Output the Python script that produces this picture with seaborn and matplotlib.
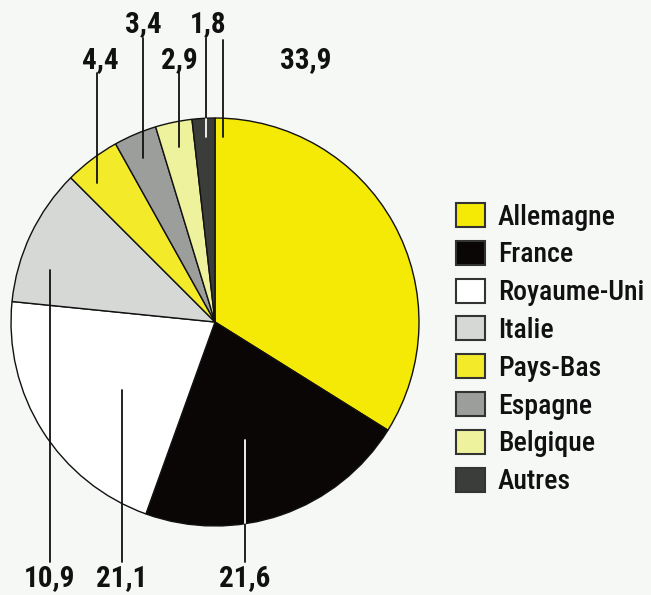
"""
Répartition par pays - camembert
"""

import matplotlib
matplotlib.use('Agg')
import matplotlib.pyplot as plt
import matplotlib.font_manager as fm
import seaborn as sns

sns.set_style("white")
noms = {f.name for f in fm.fontManager.ttflist}
famille = [n for n in ['Roboto Condensed', 'DejaVu Sans Condensed', 'Liberation Sans Narrow'] if n in noms]
plt.rcParams['font.family'] = famille + ['DejaVu Sans']

# données
pays = ['Allemagne', 'France', 'Royaume-Uni', 'Italie', 'Pays-Bas', 'Espagne', 'Belgique', 'Autres']
parts = [33.9, 21.6, 21.1, 10.9, 4.4, 3.4, 2.9, 1.8]
couleurs = ['#f4ea05', '#0b0606', '#ffffff', '#d6d8d6', '#f3ea2a', '#9c9e9c', '#eff29c', '#3b3d3b']
etiquettes = ['33,9', '21,6', '21,1', '10,9', '4,4', '3,4', '2,9', '1,8']

# position des étiquettes (pixels) : x texte, y texte, x trait, y début, y fin
pos_etiq = {
    '33,9': (306, 60, 223, 40, 137),
    '21,6': (245, 578, 245, 440, 562),
    '21,1': (122, 578, 122, 390, 562),
    '10,9': (50, 578, 50, 270, 562),
    '4,4': (100, 60, 97, 73, 183),
    '3,4': (143, 24, 143, 38, 158),
    '2,9': (179, 60, 179, 72, 147),
    '1,8': (208, 24, 206, 38, 137),
}

W, H = 651, 595
fond = '#f5f8f5'
fig = plt.figure(figsize=(W / 100, H / 100), dpi=100, facecolor=fond)

# camembert : centre (215, 322), rayon 205 px
cx, cy, r = 215, 322, 205
ax = fig.add_axes([(cx - r) / W, 1 - (cy + r) / H, 2 * r / W, 2 * r / H])
ax.set_facecolor(fond)
wedges, _ = ax.pie(parts, colors=couleurs, startangle=90, counterclock=False,
                   wedgeprops={'edgecolor': '#111111', 'linewidth': 1.0})
ax.set_xlim(-1.005, 1.005)
ax.set_ylim(-1.005, 1.005)
ax.set_aspect('equal')
ax.axis('off')

# calque pour les traits et étiquettes, en pixels
ov = fig.add_axes([0, 0, 1, 1], facecolor='none')
ov.set_xlim(0, W)
ov.set_ylim(H, 0)
ov.axis('off')

sombres = {'France', 'Autres'}
for p, lab in zip(pays, etiquettes):
    tx, ty, lx, y0, y1 = pos_etiq[lab]
    ov.text(tx, ty, lab, ha='center', va='center', fontsize=21, fontweight='bold', color='#111111')
    ov.plot([lx, lx], [y0, y1], color='#111111', lw=1.3)
    # partie du trait à l'intérieur d'une part sombre en blanc
    if p in sombres:
        bord = (r ** 2 - (lx - cx) ** 2) ** 0.5
        if y1 > cy:
            ov.plot([lx, lx], [y0, min(y1, cy + bord - 2)], color='white', lw=1.3)
        else:
            ov.plot([lx, lx], [max(y0, cy - bord + 2), y1], color='white', lw=1.3)

leg = fig.legend(wedges, pays, loc='upper left', bbox_to_anchor=(456 / W, 1 - 203 / H),
                 frameon=False, fontsize=20, handlelength=1.05, handleheight=0.95,
                 handletextpad=0.45, labelspacing=0.37, borderpad=0, borderaxespad=0)
for t in leg.get_texts():
    t.set_color('#111111')
    t.set_fontweight('medium')
for h in leg.legend_handles:
    h.set_edgecolor('#333333')
    h.set_linewidth(1.5)

plt.savefig('out.png', dpi=100, facecolor=fond)
